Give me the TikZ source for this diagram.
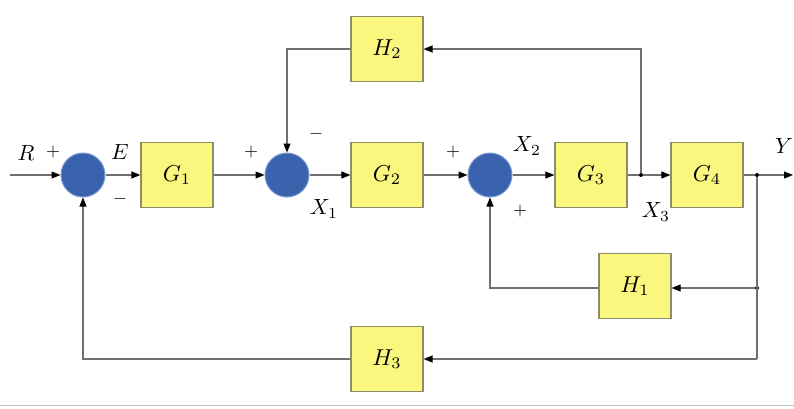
\documentclass[tikz,border=0pt]{standalone}
\usepackage{graphicx}
\usetikzlibrary{arrows.meta}
\definecolor{boxfill}{HTML}{F9F77E}
\definecolor{boxdraw}{HTML}{8C8C6A}
\definecolor{sumfill}{HTML}{3A63AE}
\definecolor{sumdraw}{HTML}{7D9AD2}
\definecolor{wire}{HTML}{707070}
\begin{document}
\begin{tikzpicture}[x=1pt,y=-1pt,
  blk/.style={draw=boxdraw, line width=1.2pt, fill=boxfill, minimum width=72pt, minimum height=65pt, inner sep=0pt},
  sumnode/.style={circle, draw=sumdraw, line width=1pt, fill=sumfill, minimum size=44pt, inner sep=0pt},
  wireline/.style={draw=wire, line width=1.1pt},
  sig/.style={wireline, -{Triangle[length=9pt,width=7pt,fill=black,color=black]}},
  lbl/.style={scale=2.2, inner sep=0pt},
  pm/.style={scale=1.8, inner sep=0pt},
  dotnode/.style={circle, fill=black, minimum size=4pt, inner sep=0pt}]
\useasboundingbox (0,0) rectangle (794,408);
\fill[white] (0,0) rectangle (794,408);
% nodes
\coordinate (in) at (10,175);
\node[sumnode] (S1) at (83,175) {};
\node[blk] (G1) at (177,175) {\scalebox{2.3}{$G_1$}};
\node[sumnode] (S2) at (287,175) {};
\node[blk] (G2) at (387,175) {\scalebox{2.3}{$G_2$}};
\node[sumnode] (S3) at (490,175) {};
\node[blk] (G3) at (591,175) {\scalebox{2.3}{$G_3$}};
\node[dotnode] (d3) at (641,175) {};
\node[blk] (G4) at (707,175) {\scalebox{2.3}{$G_4$}};
\node[dotnode] (d4) at (757,175) {};
\coordinate (out) at (793,175);
\node[blk] (H2) at (387,49) {\scalebox{2.3}{$H_2$}};
\node[blk] (H1) at (635,286) {\scalebox{2.3}{$H_1$}};
\node[dotnode] (d41) at (757,288) {};
\node[blk] (H3) at (387,359) {\scalebox{2.3}{$H_3$}};
\coordinate (d5) at (757,359);
% wires
\draw[sig] (in) -- (S1);
\draw[sig] (S1) -- (G1);
\draw[sig] (G1) -- (S2);
\draw[sig] (S2) -- (G2);
\draw[sig] (G2) -- (S3);
\draw[sig] (S3) -- (G3);
\draw[wireline] (G3) -- (d3);
\draw[sig] (d3) -- (G4);
\draw[wireline] (G4) -- (d4);
\draw[sig] (d4) -- (out);
\draw[sig] (d3) |- (H2.east);
\draw[sig] (H2.west) -| (S2.north);
\draw[wireline] (d4) -- (d5);
\draw[sig] (d41) -- (H1.east |- d41);
\draw[sig] (H1.west |- d41) -| (S3.south);
\draw[sig] (d5) -- (H3.east);
\draw[sig] (H3.west) -| (S1.south);
% labels
\node[lbl] at (26,153) {$R$};
\node[pm] at (53,152) {$+$};
\node[lbl] at (120,152) {$E$};
\node[pm] at (120,199) {$-$};
\node[pm] at (251,152) {$+$};
\node[pm] at (316,134) {$-$};
\node[lbl] at (324,209) {$X_1$};
\node[pm] at (453,152) {$+$};
\node[lbl] at (527,146) {$X_2$};
\node[pm] at (520,211) {$+$};
\node[lbl] at (656,212) {$X_3$};
\node[lbl] at (784,146) {$Y$};
\draw[gray!50, line width=1pt] (0,405) -- (794,405);
\end{tikzpicture}
\end{document}
